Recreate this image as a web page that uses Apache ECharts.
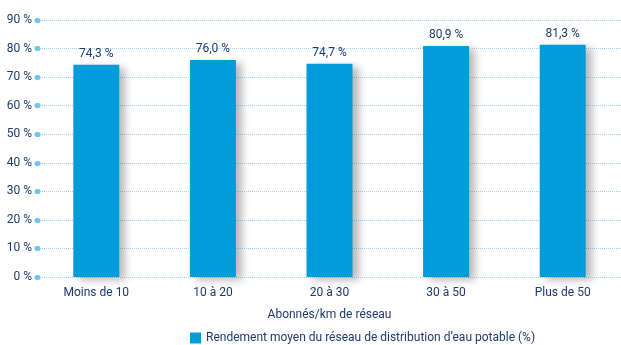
<!DOCTYPE html>
<html>
<head>
<meta charset="utf-8">
<script src="https://cdn.jsdelivr.net/npm/echarts@6/dist/echarts.min.js"></script>
<style>
  html, body { margin: 0; padding: 0; background: #fff; }
  #chart { width: 621px; height: 345px; }
</style>
</head>
<body>
<div id="chart"></div>
<script>
const categories = ["Moins de 10", "10 à 20", "20 à 30", "30 à 50", "Plus de 50"];
const rendement = [74.3, 76.0, 74.7, 80.9, 81.3];
const seriesName = "Rendement moyen du réseau de distribution d’eau potable (%)";

const navy = "#1d3a6b";
const font = "Roboto, 'Liberation Sans', sans-serif";

const chart = echarts.init(document.getElementById("chart"));
chart.setOption({
  backgroundColor: "#fff",
  animation: false,
  textStyle: { fontFamily: font },
  grid: { left: 38, right: -7, top: 20, bottom: 68, containLabel: false },
  legend: {
    top: 327,
    left: 185,
    itemWidth: 11,
    itemHeight: 11,
    itemGap: 6,
    data: [seriesName],
    icon: "rect",
    textStyle: { color: navy, fontSize: 12, fontFamily: font }
  },
  xAxis: {
    type: "category",
    data: categories,
    name: "Abonnés/km de réseau",
    nameLocation: "middle",
    nameGap: 32,
    nameTextStyle: { color: navy, fontSize: 12, fontFamily: font },
    axisLine: { show: false },
    axisTick: { show: false },
    axisLabel: { color: navy, fontSize: 12, margin: 10, fontFamily: font }
  },
  yAxis: {
    type: "value",
    min: 0,
    max: 90,
    interval: 10,
    axisLine: { show: false },
    axisTick: {
      show: true,
      length: 1,
      lineStyle: { color: "#6cc4ec", width: 5, cap: "round" }
    },
    axisLabel: {
      color: navy,
      fontSize: 12,
      margin: 6,
      fontFamily: font,
      formatter: (v) => v + " %"
    },
    splitLine: {
      show: true,
      lineStyle: { color: "#9fd4ef", type: [1, 1], width: 1 }
    }
  },
  series: [{
    name: seriesName,
    type: "bar",
    data: rendement,
    barWidth: 46,
    itemStyle: {
      color: "#009bd9",
      shadowColor: "rgba(0,0,0,0.28)",
      shadowBlur: 8,
      shadowOffsetX: 6,
      shadowOffsetY: 3
    },
    label: {
      show: true,
      position: "top",
      distance: 5,
      color: navy,
      fontSize: 12,
      fontFamily: font,
      formatter: (p) => p.value.toFixed(1).replace(".", ",") + " %"
    }
  }]
});
</script>
</body>
</html>
